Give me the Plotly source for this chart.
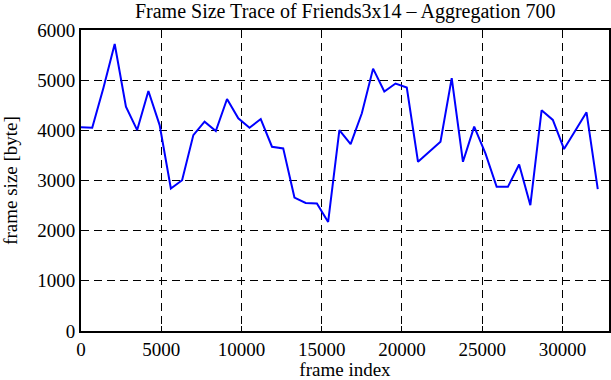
import plotly.graph_objects as go

aggregation = 700
frame_sizes = [4060, 4050, 4850, 5720, 4470, 4005, 4785, 4105, 2840, 3005,
               3905, 4173, 3985, 4625, 4240, 4050, 4225, 3673, 3640, 2660,
               2553, 2540, 2173, 4005, 3725, 4340, 5230, 4773, 4933, 4853,
               3373, 3573, 3773, 5040, 3373, 4073, 3540, 2873, 2873, 3320,
               2507, 4400, 4207, 3627, 3987, 4360, 2827]
frame_index = [i * aggregation for i in range(len(frame_sizes))]
x_ticks = [0, 5000, 10000, 15000, 20000, 25000, 30000]
y_ticks = [0, 1000, 2000, 3000, 4000, 5000, 6000]
title = "Frame Size Trace of Friends3x14 \u2013 Aggregation 700"

font = "Liberation Serif, Times New Roman, serif"

fig = go.Figure()
fig.add_trace(go.Scatter(x=frame_index, y=frame_sizes, mode="lines",
                         line=dict(color="#0000ff", width=2)))

axis_common = dict(showline=True, linecolor="black", linewidth=2, mirror="ticks",
                   ticks="inside", ticklen=5, tickcolor="black", tickwidth=1,
                   showgrid=True, gridcolor="black", gridwidth=1, griddash="8px,5px",
                   zeroline=False, automargin=False,
                   tickfont=dict(family=font, size=19, color="black"))

fig.update_layout(
    width=611, height=380,
    margin=dict(l=81, r=2, t=30, b=49),
    paper_bgcolor="white", plot_bgcolor="white",
    showlegend=False,
    title=dict(text=title, x=0.565, xanchor="center", y=0.99, yanchor="top",
               font=dict(family=font, size=20, color="black")),
    xaxis=dict(range=[0, 32900], tickvals=x_ticks, ticktext=[str(v) for v in x_ticks],
               title=dict(text="frame index", font=dict(family=font, size=19, color="black"), standoff=2),
               **axis_common),
    yaxis=dict(range=[0, 6000], tickvals=y_ticks, ticktext=[str(v) for v in y_ticks],
               title=dict(text="frame size [byte]", font=dict(family=font, size=19, color="black"), standoff=17),
               **axis_common),
)
fig.write_html("out.html", config={"displayModeBar": False},
               post_script="document.body.style.margin='0';document.body.style.overflow='hidden';")
